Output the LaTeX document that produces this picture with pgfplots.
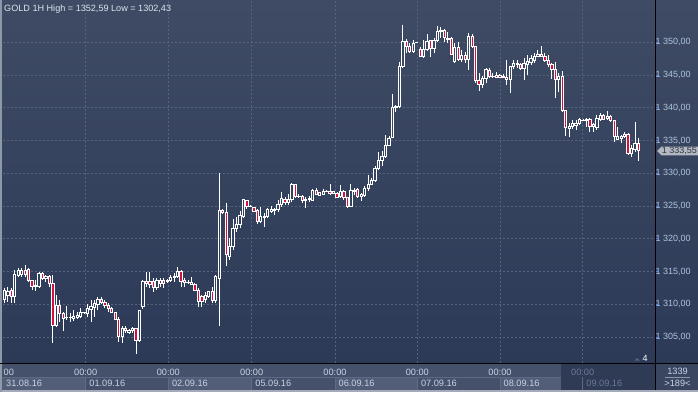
\documentclass[border=0pt]{standalone}
\usepackage{fontspec}
\setmainfont{Liberation Sans}
\usepackage{pgfplots}
\usepackage{pgfplotstable}
\pgfplotsset{compat=1.18}
\definecolor{bgtop}{HTML}{3F4B64}
\definecolor{bgbot}{HTML}{2C3A58}
\definecolor{gridc}{HTML}{56637D}
\definecolor{bear}{HTML}{D3123E}
\definecolor{ticklab}{HTML}{AFC3DF}
\definecolor{tickblue}{HTML}{3F7FDF}
\definecolor{strip}{HTML}{45516A}
\definecolor{striplt}{HTML}{525E77}
\definecolor{stripdk}{HTML}{2F3B55}
\definecolor{stripsep}{HTML}{5E6A83}
\definecolor{striptext}{HTML}{C7D2E4}
\definecolor{stripdim}{HTML}{6B7995}
\definecolor{titlec}{HTML}{DDE4EE}
\definecolor{tagc}{HTML}{B4B8C0}
\definecolor{tagtext}{HTML}{2B3345}
\definecolor{framec}{HTML}{A3ABBA}
\definecolor{cellc}{HTML}{3A4660}

\pgfplotstableread{
i O H L C
0 1310.76 1312.44 1310.15 1312.18
1 1311.42 1312.69 1310.40 1311.93
2 1312.08 1312.44 1310.25 1311.27
3 1311.16 1315.24 1310.15 1314.63
4 1314.48 1315.50 1314.20 1315.24
5 1314.63 1315.50 1314.22 1315.14
6 1315.14 1315.95 1314.22 1314.63
7 1315.34 1315.60 1313.45 1313.71
8 1313.61 1313.71 1312.18 1312.79
9 1312.69 1313.71 1312.03 1312.95
10 1312.69 1314.98 1312.44 1314.73
11 1314.73 1314.90 1313.80 1313.91
12 1313.91 1314.47 1313.45 1314.22
13 1314.22 1314.47 1312.69 1313.20
14 1313.20 1314.47 1304.14 1306.84
15 1306.74 1311.42 1306.58 1309.89
16 1309.89 1310.66 1307.35 1308.62
17 1308.62 1308.87 1305.97 1307.86
18 1308.01 1309.74 1307.60 1308.05
19 1308.05 1308.62 1307.35 1308.00
20 1307.86 1309.13 1307.50 1308.11
21 1308.01 1308.80 1307.80 1308.37
22 1308.20 1309.39 1307.86 1308.72
23 1308.72 1308.90 1308.50 1308.74
24 1308.62 1310.05 1308.11 1309.39
25 1309.23 1310.66 1307.35 1309.64
26 1309.49 1310.66 1308.11 1310.15
27 1310.05 1311.16 1309.13 1310.76
28 1310.76 1311.16 1310.05 1310.25
29 1310.25 1310.66 1309.39 1309.79
30 1309.79 1310.15 1308.87 1309.39
31 1309.39 1309.64 1308.62 1308.77
32 1308.77 1308.90 1307.60 1307.76
33 1307.76 1308.01 1304.30 1305.06
34 1305.06 1306.74 1304.14 1306.33
35 1306.33 1306.74 1305.57 1305.97
36 1305.67 1306.30 1305.50 1306.08
37 1305.97 1306.58 1305.57 1306.33
38 1306.33 1306.40 1302.43 1304.45
39 1304.45 1309.20 1304.30 1309.13
40 1309.64 1313.71 1309.28 1313.45
41 1313.45 1314.98 1312.69 1313.20
42 1313.45 1314.98 1312.44 1313.10
43 1313.45 1313.96 1311.93 1312.60
44 1312.60 1313.96 1312.18 1313.71
45 1313.20 1313.96 1312.69 1313.71
46 1313.71 1313.96 1312.44 1313.20
47 1313.45 1313.90 1313.30 1313.71
48 1313.71 1314.47 1313.45 1314.12
49 1314.12 1314.73 1313.45 1314.32
50 1314.22 1315.64 1313.96 1314.98
51 1314.98 1315.24 1312.69 1313.45
52 1313.61 1313.96 1312.69 1313.35
53 1313.30 1313.71 1313.10 1313.32
54 1313.10 1314.22 1312.95 1313.30
55 1313.10 1313.20 1312.00 1312.18
56 1312.18 1312.44 1309.64 1310.40
57 1311.16 1311.42 1309.64 1310.40
58 1310.76 1311.93 1310.15 1311.42
59 1311.16 1312.10 1311.00 1311.93
60 1311.93 1312.59 1310.25 1310.66
61 1310.66 1314.47 1310.25 1314.22
62 1313.96 1329.99 1306.74 1324.40
63 1324.40 1324.60 1323.80 1324.00
64 1324.04 1325.51 1315.89 1317.62
65 1317.27 1320.07 1316.76 1318.79
66 1318.79 1322.97 1318.28 1321.59
67 1321.59 1323.37 1321.08 1322.26
68 1322.26 1324.24 1321.59 1323.63
69 1323.37 1326.10 1323.30 1326.02
70 1325.87 1325.92 1324.50 1325.00
71 1325.00 1325.10 1324.90 1325.02
72 1324.80 1324.90 1324.10 1324.24
73 1324.39 1324.50 1322.26 1322.71
74 1322.61 1324.90 1322.36 1323.37
75 1323.27 1323.88 1321.75 1323.47
76 1323.47 1324.75 1323.12 1324.50
77 1324.24 1325.00 1324.00 1324.50
78 1324.29 1324.65 1323.63 1324.50
79 1324.50 1325.92 1324.14 1325.26
80 1325.26 1327.19 1324.90 1326.17
81 1326.07 1326.33 1325.16 1325.56
82 1325.56 1326.79 1325.16 1326.07
83 1326.07 1328.46 1325.67 1328.26
84 1328.26 1328.36 1326.17 1326.43
85 1326.43 1326.83 1326.17 1326.50
86 1326.43 1326.68 1325.41 1325.82
87 1325.82 1326.43 1324.75 1326.02
88 1326.00 1326.50 1325.67 1326.10
89 1325.92 1327.55 1325.82 1327.44
90 1327.34 1327.70 1326.68 1326.83
91 1326.68 1327.19 1326.60 1327.04
92 1326.83 1327.55 1326.68 1327.29
93 1327.29 1327.50 1327.10 1327.30
94 1327.19 1328.36 1326.68 1326.94
95 1326.94 1327.30 1326.80 1327.19
96 1326.94 1327.19 1326.17 1326.33
97 1326.43 1328.20 1326.17 1327.19
98 1327.19 1327.44 1325.92 1326.33
99 1326.33 1326.43 1324.75 1324.90
100 1325.00 1328.36 1324.90 1327.44
101 1327.19 1327.70 1326.68 1327.44
102 1327.55 1327.70 1326.17 1326.43
103 1326.43 1326.94 1325.82 1326.79
104 1326.58 1328.05 1326.43 1327.70
105 1327.70 1329.74 1327.34 1328.31
106 1328.31 1329.23 1328.21 1328.87
107 1328.87 1331.11 1328.72 1330.75
108 1330.75 1333.30 1330.50 1332.03
109 1332.03 1333.45 1331.16 1332.54
110 1332.54 1335.84 1332.28 1334.32
111 1334.32 1335.69 1334.17 1335.33
112 1335.48 1342.10 1335.33 1340.07
113 1340.07 1340.42 1339.41 1340.27
114 1340.17 1347.04 1340.07 1346.28
115 1346.28 1352.59 1346.02 1350.19
116 1350.19 1350.45 1348.41 1349.43
117 1349.43 1349.84 1348.31 1348.56
118 1348.56 1350.35 1348.31 1349.84
119 1350.00 1350.10 1349.90 1350.02
120 1348.92 1349.30 1347.70 1347.90
121 1347.80 1350.35 1347.55 1348.92
122 1348.92 1351.20 1348.72 1350.10
123 1350.25 1350.35 1347.80 1349.07
124 1349.07 1350.60 1348.41 1350.35
125 1350.35 1352.45 1350.10 1351.72
126 1351.62 1352.28 1350.60 1351.87
127 1351.87 1351.98 1350.10 1350.75
128 1350.50 1351.62 1349.84 1350.60
129 1350.60 1350.86 1348.05 1348.21
130 1347.04 1349.84 1346.89 1349.23
131 1349.23 1350.10 1347.19 1347.39
132 1347.39 1348.82 1347.04 1348.05
133 1348.05 1348.56 1346.89 1347.39
134 1347.39 1351.37 1345.77 1350.96
135 1350.96 1351.27 1349.07 1349.33
136 1349.33 1349.43 1343.83 1344.14
137 1344.14 1345.36 1342.61 1343.63
138 1343.63 1344.85 1342.97 1344.50
139 1344.50 1346.02 1343.73 1345.87
140 1345.77 1346.02 1344.50 1344.75
141 1344.75 1345.26 1344.60 1344.80
142 1344.65 1345.51 1344.50 1345.00
143 1345.00 1345.16 1344.50 1344.65
144 1344.65 1345.16 1344.50 1344.75
145 1344.65 1347.29 1343.48 1344.35
146 1344.35 1346.38 1342.20 1346.28
147 1346.28 1347.29 1345.87 1346.79
148 1346.63 1347.29 1346.02 1346.79
149 1346.69 1346.89 1345.77 1346.02
150 1346.02 1347.55 1344.24 1346.79
151 1346.69 1348.05 1345.00 1347.04
152 1346.89 1348.05 1346.53 1347.55
153 1347.29 1348.31 1346.79 1347.90
154 1347.90 1348.82 1347.70 1348.21
155 1348.21 1349.43 1347.70 1347.90
156 1347.90 1348.31 1347.04 1347.19
157 1347.19 1348.05 1346.28 1346.63
158 1346.63 1346.89 1344.34 1345.87
159 1345.87 1347.04 1341.44 1344.34
160 1344.34 1345.26 1342.46 1344.85
161 1344.85 1345.61 1339.41 1339.56
162 1339.56 1339.66 1335.69 1337.01
163 1336.86 1337.73 1335.59 1337.22
164 1337.22 1338.13 1336.71 1337.63
165 1337.37 1338.13 1336.61 1337.63
166 1337.63 1338.39 1337.37 1338.24
167 1338.13 1338.30 1338.00 1338.15
168 1338.03 1338.39 1337.12 1338.24
169 1338.24 1338.39 1336.35 1337.12
170 1337.12 1337.73 1336.35 1337.53
171 1337.01 1338.90 1336.61 1338.39
172 1338.24 1339.25 1338.03 1338.90
173 1338.90 1339.05 1338.13 1338.24
174 1338.39 1339.56 1338.13 1338.64
175 1338.64 1338.90 1337.88 1338.03
176 1338.03 1338.13 1334.83 1335.59
177 1335.18 1337.12 1335.08 1335.69
178 1335.33 1335.84 1334.68 1335.59
179 1335.59 1336.35 1335.48 1336.00
180 1336.00 1336.20 1332.79 1333.04
181 1333.04 1334.32 1332.43 1333.80
182 1333.65 1337.88 1333.30 1334.57
183 1334.57 1335.33 1331.92 1333.55
}\candles

\pgfplotsset{
  chartgeom/.style={
    at={(3pt,29pt)}, anchor=south west, scale only axis,
    width=652pt, height=363pt,
    xmin=-0.375, xmax=187.8, ymin=1301.04, ymax=1356.46,
  }
}

\begin{document}
\begin{tikzpicture}[x=1pt,y=1pt]
\path[use as bounding box] (0,0) rectangle (698,392);
% backgrounds
\shade[top color=bgtop, bottom color=bgbot] (0,29) rectangle (698,392);
\fill[strip] (0,0) rectangle (655,29);
% date boxes (lower row)
\fill[striplt] (2,2) rectangle (85.7,15);
\fill[striplt] (168.3,2) rectangle (251.7,15);
\fill[striplt] (335,2) rectangle (417.3,15);
\fill[striplt] (500,2) rectangle (561,15);
\fill[stripdk] (561,2) rectangle (655,28.5);
\foreach \gx in {85.7,168.3,251.7,335,417.3,500,582.7}{
  \draw[stripsep, line width=0.8pt] (\gx,2) -- (\gx,15);
}
\draw[stripsep, line width=0.6pt] (2,15) -- (561,15);
\fill[cellc] (655.5,2) rectangle (698,28.5);
% frame
\fill[framec] (0,0) rectangle (698,2);
\fill[framec!80!bgtop] (0,0) rectangle (1.8,392);

% axis with grid, ticks and wicks
\begin{axis}[chartgeom,
  axis line style={draw=none},
  xtick={23.49,47.33,71.40,95.44,119.19,143.06,166.93},
  xticklabels={}, xtick style={draw=none},
  ytick={1305,1310,1315,1320,1325,1330,1335,1340,1345,1350},
  yticklabels={{1 305,00},{1 310,00},{1 315,00},{1 320,00},{1 325,00},{1 330,00},{1 335,00},{1 340,00},{1 345,00},{1 350,00}},
  ytick pos=right, yticklabel pos=right,
  tick align=outside, major tick length=3pt,
  ytick style={draw=tickblue, line width=1pt},
  yticklabel style={font=\fontsize{9}{10}\selectfont, text=ticklab, anchor=west, inner sep=0pt, xshift=-2.5pt},
  grid=major,
  major grid style={draw=gridc, dash pattern=on 2pt off 2pt, line width=0.8pt},
]
\addplot[draw=none, mark=none, forget plot,
  error bars/.cd, y dir=plus, y explicit, error mark=none,
  error bar style={draw=white, line width=0.8pt, solid}]
  table[x=i, y expr={max(\thisrow{O},\thisrow{C})},
        y error plus expr={\thisrow{H}-max(\thisrow{O},\thisrow{C})}] {\candles};
\addplot[draw=none, mark=none, forget plot,
  error bars/.cd, y dir=minus, y explicit, error mark=none,
  error bar style={draw=white, line width=0.8pt, solid}]
  table[x=i, y expr={min(\thisrow{O},\thisrow{C})},
        y error minus expr={min(\thisrow{O},\thisrow{C})-\thisrow{L}}] {\candles};
\end{axis}

% candle bodies
\begin{axis}[chartgeom, hide axis, ybar stacked, bar width=2.3pt]
\addplot[draw=none, fill=none] table[x=i, y expr={min(\thisrow{O},\thisrow{C})}] {\candles};
\addplot[draw=white, fill=none, line width=0.8pt] table[x=i, y expr={max(\thisrow{C}-\thisrow{O},0)}] {\candles};
\addplot[draw=white, fill=bear, line width=0.8pt] table[x=i, y expr={max(\thisrow{O}-\thisrow{C},0)}] {\candles};
\end{axis}

% separators
\fill[black] (0,28.5) rectangle (698,29.5);
\fill[black] (654.5,2) rectangle (655.5,392);

% title
\node[anchor=base west, inner sep=0pt, text=titlec, font=\fontsize{9.1}{11}\selectfont] at (4,380.3) {GOLD 1H High = 1352,59 Low = 1302,43};

% price tag
\fill[tagc] (657,241) -- (661.5,245.3) -- (698,245.3) -- (698,236.7) -- (661.5,236.7) -- cycle;
\node[anchor=west, inner sep=0pt, text=tagtext, font=\fontsize{9}{10}\selectfont] at (661.7,241) {1 333,55};

% small marker
\fill[gray!60!bgbot] (634.5,31.5) -- (639.5,31.5) -- (637,34) -- cycle;
\node[anchor=base west, inner sep=0pt, text=white, font=\fontsize{9}{10}\selectfont] at (642.5,30.5) {4};

% time axis labels
\begin{scope}[font=\fontsize{9.2}{10}\selectfont]
\node[anchor=base west, inner sep=0pt, text=striptext] at (3.5,16.3) {00};
\foreach \gx in {85.7,168.3,251.7,335,417.3,500}{
  \node[anchor=base, inner sep=0pt, text=striptext] at (\gx,16.3) {00:00};
}
\node[anchor=base, inner sep=0pt, text=stripdim] at (582.7,16.3) {00:00};
\node[anchor=base west, inner sep=0pt, text=striptext] at (6,5.3) {31.08.16};
\node[anchor=base west, inner sep=0pt, text=striptext] at (89.2,5.3) {01.09.16};
\node[anchor=base west, inner sep=0pt, text=striptext] at (171.8,5.3) {02.09.16};
\node[anchor=base west, inner sep=0pt, text=striptext] at (255.2,5.3) {05.09.16};
\node[anchor=base west, inner sep=0pt, text=striptext] at (338.5,5.3) {06.09.16};
\node[anchor=base west, inner sep=0pt, text=striptext] at (420.8,5.3) {07.09.16};
\node[anchor=base west, inner sep=0pt, text=striptext] at (503.5,5.3) {08.09.16};
\node[anchor=base west, inner sep=0pt, text=stripdim] at (586.2,5.3) {09.09.16};
\node[anchor=base, inner sep=0pt, text=striptext] at (677.5,18) {1339};
\node[anchor=base, inner sep=0pt, text=striptext] at (677.5,5.3) {>189<};
\end{scope}
\draw[stripsep!70!white, line width=0.6pt] (665,14.7) -- (690,14.7);
\end{tikzpicture}
\end{document}
